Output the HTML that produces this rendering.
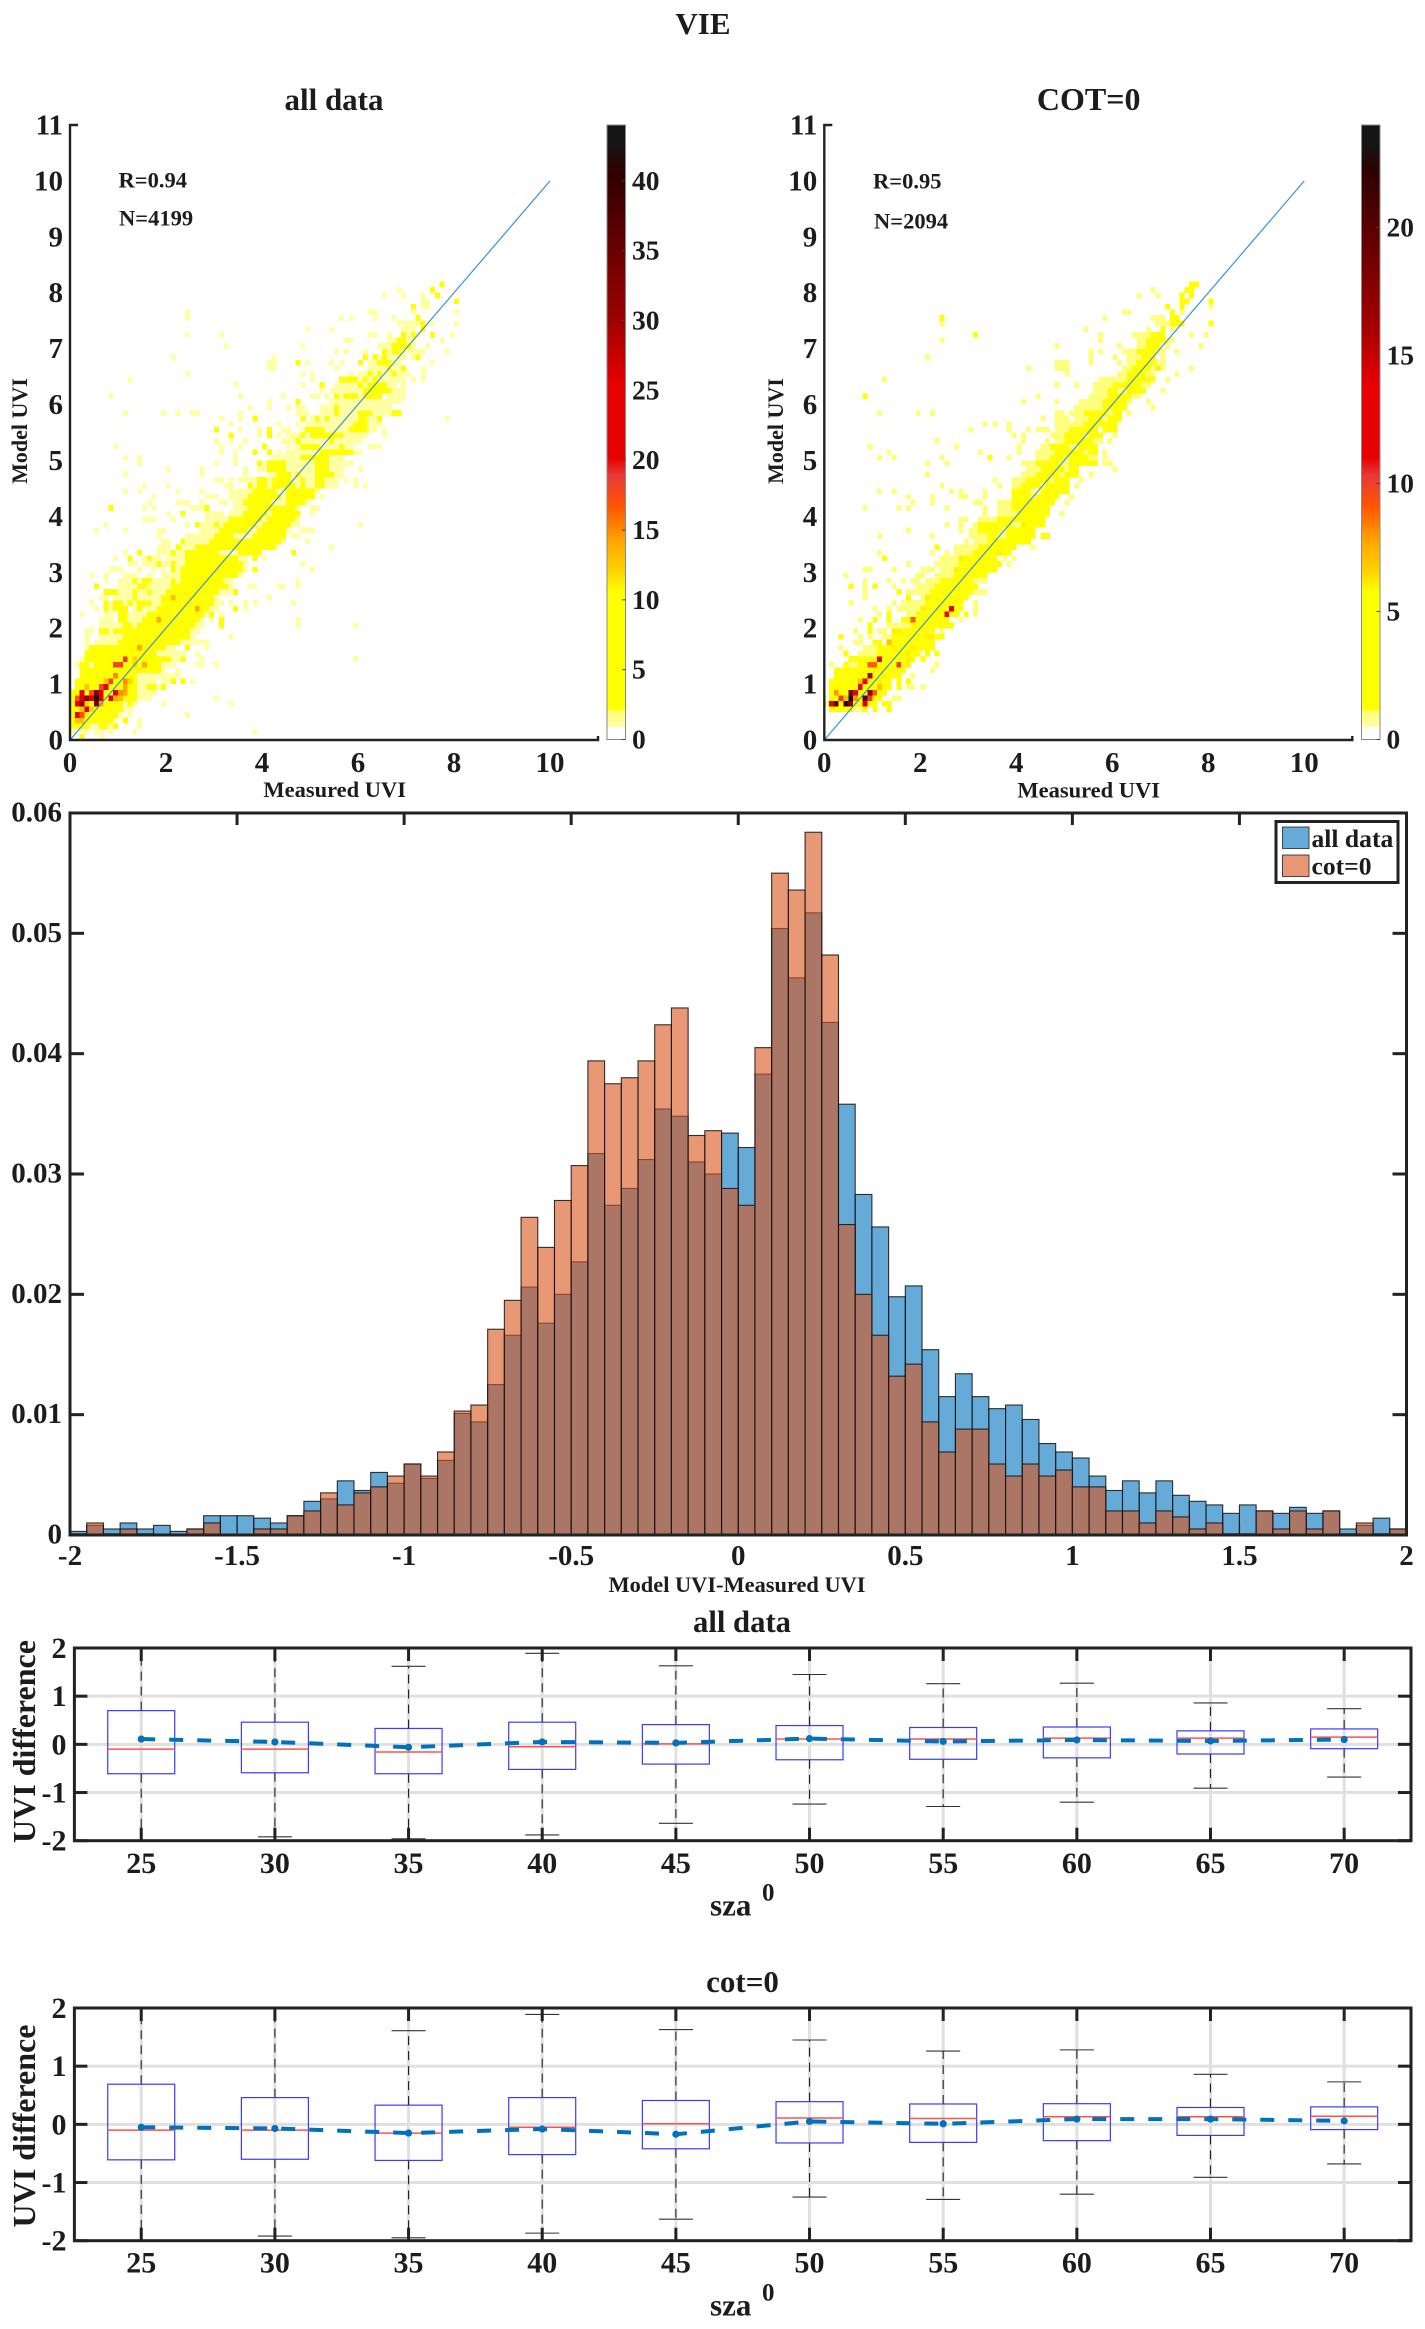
<!DOCTYPE html>
<html lang="en">
<head>
<meta charset="utf-8">
<title>VIE</title>
<style>
html,body{margin:0;padding:0;background:#fff;}
svg{display:block;}
text{font-family:"Liberation Serif",serif;font-weight:bold;fill:#1c1c1c;}
</style>
</head>
<body>
<svg id="fig" xmlns="http://www.w3.org/2000/svg" width="1425" height="2329" viewBox="0 0 1425 2329">
<rect x="0" y="0" width="1425" height="2329" fill="#fff"/>
<defs>
<clipPath id="clip-box-1"><rect x="74.4" y="1648" width="1336.6" height="192.7"/></clipPath>
<clipPath id="clip-box-2"><rect x="74.4" y="2008" width="1336.6" height="232.7"/></clipPath>
</defs>
<text x="703" y="34" text-anchor="middle" font-size="31">VIE</text>

<g id="scatter-all"></g>
<g id="scatter-cot"></g>
<text x="334" y="110" text-anchor="middle" font-size="31">all data</text>
<text x="1088.7" y="110" text-anchor="middle" font-size="32">COT=0</text>
<text x="118.5" y="187.7" font-size="22.5">R=0.94</text>
<text x="119" y="225.7" font-size="22.5">N=4199</text>
<text x="873" y="188.5" font-size="22.5">R=0.95</text>
<text x="874" y="228.7" font-size="22.5">N=2094</text>
<text x="334.7" y="797" text-anchor="middle" font-size="22.5">Measured UVI</text>
<text x="1088.7" y="797.5" text-anchor="middle" font-size="22.5">Measured UVI</text>
<text transform="translate(27 431) rotate(-90)" text-anchor="middle" font-size="22">Model UVI</text>
<text transform="translate(783 431) rotate(-90)" text-anchor="middle" font-size="22">Model UVI</text>

<g id="hist"></g>
<text x="737" y="1592" text-anchor="middle" font-size="22.4">Model UVI-Measured UVI</text>
<g>
<rect x="1276" y="821.5" width="122" height="61" fill="#fff" stroke="#222" stroke-width="3"/>
<rect x="1282.5" y="827" width="26.5" height="21.5" fill="#0072bd" fill-opacity="0.6" stroke="#222" stroke-width="0.8"/>
<rect x="1282.5" y="855" width="26.5" height="21.5" fill="#d95319" fill-opacity="0.6" stroke="#222" stroke-width="0.8"/>
<text x="1311.5" y="847" font-size="25.6">all data</text>
<text x="1311.5" y="874.5" font-size="25.6">cot=0</text>
</g>

<g id="box-all"></g>
<g id="box-cot"></g>
<text x="742" y="1632" text-anchor="middle" font-size="30.7">all data</text>
<text x="742.5" y="1992" text-anchor="middle" font-size="31">cot=0</text>
<text transform="translate(35 1741.5) rotate(-90)" text-anchor="middle" font-size="32">UVI difference</text>
<text transform="translate(35 2126) rotate(-90)" text-anchor="middle" font-size="32">UVI difference</text>
<text x="710" y="1915.7" font-size="31">sza</text>
<text x="762" y="1900.7" font-size="25">0</text>
<text x="710" y="2315.7" font-size="31">sza</text>
<text x="762" y="2300.7" font-size="25">0</text>
</svg>

<script>
// ---------- scatter density data: one string per 0.1-wide Model UVI bin, tokens "xbin" or "a-b" with optional ":count" (default count 1)
const scatterAllRows = [
"2:5 6",
"0 2-3 5-6 8 13 38",
"0-3:5 4-5 6-7:5 8 9:5 14",
"0:5 1-2:13 3-8:5 9 11:5 14",
"0:5 1:22 2:17 3-9:5 10 12 24",
"0-1:5 2:13 3:22 4:12 5-10:5 11-12",
"0:5 1:22 2:32 3:12 4:5 5:33 6:14 7-10:5 11 12:5 13 19 33",
"0:5 1:17 2:24 3:33 4:22 5:44 6:22 7:5 8:24 9:14 10:13 11-13:5 14-16 30",
"0-1:5 2:24 3:5 4:17 5:32 6:24 7-8:5 9:24 10:15 11:14 12-13:5 14-16 17",
"1-2:5 3:13 4-5:5 6:18 7:21 8-10:5 11:14 12-13:5 14-15 16-17:5 18 19:5",
"1-6:5 7:13 8:18 9-10:5 11:15 12:12 13:5 14-17 19-20 21:5 23:5 25",
"2-8:5 9:15 10-13:5 14 15-18 19-22",
"2-8:5 9-13:5 14:11 15-18:5 19 22",
"1 2-3:5 4 5-8:5 9-10:18 11-12:5 13:12 14:5 15:14 16-18:5 19 20-21 26-27 30",
"2 3-10:5 11:19 12:5 13:12 14-19:5 20:5 21-22 23:5 27 59",
"3-17:5 18 19 20-23 26",
"3 4-13:5 14:14 15-19:5 20-21 24:5 28",
"3 5-9 10-22:5 23 24-25 26-27 28",
"3 6-9 10 11-24:5 25 33",
"3-4 6-7:5 8 9-12:5 13-24:5 25-26",
"6-8 9 10 11-12:5 13 14-25:5 26-27 31:5 47 59",
"6 7 8 10-11:5 12-14 15-17:5 18:14 19-26:5 27 29 31:5 47",
"2 7 8 10-11:5 12-14 15 16-27:5 28 29:5 31",
"5 7:5 8 9-11:5 13 14:5 15-17 18-25:5 26:14 27-28:5 29 30 34:5 36",
"4 7:5 8 9-10:5 11 12:5 13 14-16:5 17-18 19-29:5 30 31 33 36 38 46",
"6-7 9 10-12 13:5 14 15-16 17-18 19-20:5 21:13 22-29:5 30 41",
"7-9:5 10-12 13:5 14 15 16:5 17-19 20-30:5 31-33 34:5",
"5:5 10-13 14-15:5 16-17 18-20 21-32:5 33 37-38 43-44 47",
"7 10-12 13:5 14 15-16:5 17 18-20 21:5 22 23-31:5 32-33 47",
"4 7 11-13 16 19-21 22 23-34:5 35",
"8-10 14 17 19 21:5 22 23-35:5 36 38:5 50",
"12-13 15-17 18:5 19-20 21:5 22-23 24-35:5 36 48",
"9 12:5 15 16:5 17-18 20-23 24-34:5 35 36 38:5 40",
"11 14:5 18-20 21:5 22-23 24-30:5 31-34 35-36:5 37-39:5 46:5",
"18-20 22:5 23-25 26-35:5 36-42:5 54",
"19-20 23:5 24-25 26-28 29-37:5 38-43:5 44 49",
"18 24-25 26-28 29 30-33:5 34-37 38-44:5 46-47",
"5 11 18-19 27-28 29-30 31-36:5 37-38 39-44:5 45 48-50",
"7 24 26:5 27-29 30:5 31 32-38:5 39 40-45:5 46-47 60",
"15-17 21 28-31 32 33-39:5 40 41-46:5 47",
"20 23:5 28-31 33-35 36-40:5 41 42-47:5 50",
"8:5 15 17 25-27 28:5 34 35-36 37-41:5 42-46:5 47 50-51",
"16 22-24 27 31-32 34-35 36-41:5 42-44 45-48:5 49",
"17 28-30 33 34-35 36 37-43:5 44 45-50:5 52",
"11 14 22 27 33-34 35-37 38-42:5 43-44 45-50:5 51",
"15 20 32-33 37:5 38 39-40:5 41 42-46:5 47 48:5 49-50 51-52:5 53 54-55 59 61",
"30-31 33 35-38 39-40:5 41 42-45:5 46-47 48:5 49-50 51-52:5 53-54 55 57 59",
"11 27 36 41-42 43-45:5 46 47:5 48-50 51-53:5 54:5 55-56",
"20 27 36 39-40 41-44:5 45-47 48 49-50 51-53:5 54-56 60",
"14 30 34 39:5 40 41-44:5 45 46-50 51-53:5 54 55 56-58",
"11 14 34 42 43-44 45 46-47 48-52:5 53:5 54-56",
"31 34 38:5 41:5 43 45 46 47-51 52-54:5 55-58:5 59-60",
"9 31 35 40:5 45 47 48-50:5 51:5 52-53 54-55 56:5 57-58 62-64",
"30 33 36 44-46 47:5 48-52 53 54:5 55 56-58 59-60",
"33:5 39 41:5 43 45-46 47 48:5 49 50-52:5 53-56:5 57-60 61 65",
"30:5 35 39 41:5 44-45 48 49-52:5 53-56 57 58-61:5 62-63 65",
"33 43 47 49-52 53-55 56-58 59-61:5 62-64",
"31 35 38:5 48:5 50 51:5 52 53:5 54 55-58 59 60-61:5 62-63 64:5 78",
"11 19 22 25-26 35 47-49 52-54 55:5 56 57 58-59 60-62:5 63-66 67-68:5",
"37 41 45 47-48 52-53 54 55:5 56 57-60 61 62-65 66",
"41 47:5 54-56 57-59 60 61-64 65-67 68",
"8 35 44 50-51 53 55:5 56 57-59:5 60 61-64:5 66-69",
"52 54 55-60 61-64:5 65-66:5 67-69",
"34 48 52:5 55-59 60:5 61 62-65:5 66-67 69",
"12 50 56-59:5 60 61:5 62 63:5 64-68 69 71 73",
"24 48 50 58 60-61 62:5 63 64:5 65-66 67:5 68-69 70 73",
"41-42 55 62-65 66:5 67-68 69:5 73",
"41-42 47:5 49 54 56 60:5 62-63 64-66:5 67 68 75",
"21 42 61:5 63:5 64 65:5 66-68 69 71 72:5",
"55 57 61 65:5 66 67:5 68:5 69-71 72-73 78",
"32 48 64-65 66 67-70:5 71 74",
"57-58 66 67 68-69:5 70 71 77",
"24 31 62-63 66 69:5 70 71:5 72 75:5 79",
"49 54 69-71 73:5",
"68-72 73:5 75 80",
"24 56 58 63 67 72:5",
"24 62-63 71 80",
"71:5 73-74",
"73-74 80:5",
"65 69 73 76:5",
"68 75:5",
"77:5"
];
const scatterCotRows = [
"","","","","",
"1-5:5 6-7 8:5 10:5 13:5",
"0 1:12 2:20 3:5 4:22 5:17 6-7:5 8:14 9-10:5 12-13:5",
"1-2:5 3:10 4:7 5:24 6:8 7:5 8:20 9:10 10-11:5 14-15",
"1:5 2:8 3-4:5 5:18 6:11 7-8:5 9:17 10:9 11-12:5",
"1-6:5 7:11 8-10:5 11:7 12-13:5 15:5 17-18 20",
"1-7:5 7:7 8:11 9-10:5 11:6 12-13:5 15:5 17:5",
"2-8:5 9:16 10-11:5 12:6 13-15:5 18",
"2-9:5 10-11:6 12-16:5 22",
"1 4:5 5-6 7-8:5 9-10:9 11-14:5 15:10 16:5 17:6 23",
"5-10:5 11:11 12-16:5 17:6 18:5 20:5",
"4:5 7-10 11-16:5 17:6 18-19:5 21:5 23:5",
"3 8-10 11-13:5 14:6 15-17:5 18:6 19-22:5",
"6-7 10-11:5 13:7 14-22:5",
"3:5 7 9 12-13 14-20:5 21-22:6 23-24:5",
"6 9:5 11-12 14:6 15:6 16-22:5 24",
"9:5 13 14-17 18-26:5",
"7 10:5 13:5 16-17:5 18:9 19-25:5 28",
"11 13:5 17-18 19-24:5 25:11 26-27:5 29:5 31",
"10 13 15-16 17-19 20:6 21-25:5 26:13 27-28:5 31",
"5 14 16-18 19-20 21-28:5 31",
"8 17:5 20 21:6 22-29:5",
"8 15:5 17-19 20-21 22-30:5 31-33",
"5:5 8 10:5 14 19-20 21-22 23-31:5",
"8 13 16 18-19 21-23 24-30:5 31-33",
"4 19-20 23 24-26 27-33:5",
"8-9 14 20-22 24-26 27:6 28-35:5",
"17 23-24 25-27 28-36:5 38",
"12:5 24 25-27 28:6 29-35:5 37 39",
"11 22 25 27-30 31-35:5 36:6 37-38:5",
"23:5 27-28 29-31 32-39:5 43",
"29 31-33 34-42:5",
"11 22 30-33 34-35:5 36-37 38-43:5 45-46:5",
"17 28 30-31 32-36:5 37 38-43:5",
"25 28 31 32-38:5 39-40 41:6 42-45:5",
"28-29 32-35 36-45:5",
"33 36-39 40-46:5 49",
"8 15 17 25 33 36-38 39-46:5",
"18 22 31-32 36-38 39-47:5 50",
"17 22 28-29 33 39-42:5 43 44-48:5 51",
"11 14 26 28 33 39-42:5 43 45-50:5",
"24 36 39-40 41-44:5 45 46-50:5 52",
"35 39-41 42-46:5 47 48-50:5 53",
"21 41-43 44-48:5 49 50-52:5 55",
"42-44 45-49:5 50 51-52:5 60",
"21 25 41-43 44-48:5 49-50 51-56:5 58-59",
"11 14 24 34:5 38 44-46 47-49:5 50 51-54:5 55-56 58",
"13 32 40 44-47 48-53:5 54 55-56:5 58",
"9 27 40 45-46 47-50:5 51-52 53-56:5",
"23 41 46 48-49 50-55:5 56-57 59",
"39 41 47-49 50-53:5 54 55-57:5 60",
"30 38 42 44-46 48-50 51-56:5 58-60:5",
"33 35 38 48-52 53 54-55:5 56-60:5",
"45 48-50 52-54 55-57:5 58 59-61:5",
"11 19 22 48-49 51-53 54-58:5 59 60-61:5 63",
"52-54 55-57 58-62:5 68",
"41 48 53-56 57 58-62:5 63 67",
"8:5 44 55-58 59-63:5 64-65",
"56-58 59-60:5 61-62 63-66:5 70",
"48 52 56-59 60-65:5 66-67",
"12 57-61 62 63-68:5 71",
"50 61-62 63-66:5 67-68 73",
"42 48-50 62-63 64-67:5 68 69:6 70 76",
"48-50 55 61 63-64 65-68:5 69-70",
"21 55 60 63-65 66-68:5 70",
"55 57 62 63-64 65-68:5 69-70 73",
"48 61 65-66 67-69:5 71 78",
"24 57 65-66 67-70:5 71 72",
"31:5 57 64 65-67 68-70:5 76 79",
"54 67 70:5 72",
"24 69-71 72-74:5 80:5",
"24:5 58 68 69-70 72-73:5",
"62-63 72:5 74",
"71:5 74:5 80",
"74-75:5 80:5",
"65 69 74:5 76:5",
"68 75-76:5",
"76-77:5"
];
const scatterXTicks = [0, 2, 4, 6, 8, 10];
const scatterYTicks = [0, 1, 2, 3, 4, 5, 6, 7, 8, 9, 10, 11];
const colorbarTicksAll = [0, 5, 10, 15, 20, 25, 30, 35, 40];
const colorbarTicksCot = [0, 5, 10, 15, 20];
const colorbarMaxAll = 44;
const colorbarMaxCot = 24;
const colormapFractions = [0, 0.02, 0.021, 0.045, 0.05, 0.24, 0.27, 0.32, 0.38, 0.43, 0.46, 0.58, 0.68, 0.82, 0.92, 0.97, 1];
const colormapColors = ["#ffffff","#ffffff","#ffffa8","#ffff78","#ffff00","#ffff00","#ffd800","#ffa800","#ff5500","#e83838","#e60000","#e60000","#a00000","#600000","#300000","#151515","#151515"];

// ---------- histogram data (bins of 0.05 from -2 to 2)
const histEdgeStart = -2;
const histBinWidth = 0.05;
const histAll = [.0003,.0008,.0005,.001,.0005,.0008,.0003,.0005,.0016,.0016,.0016,.0014,.001,.0016,.0028,.003,.0045,.0037,.0052,.0043,.0059,.0047,.0062,.0101,.0094,.0125,.0166,.0206,.0176,.02,.0227,.0317,.0274,.0288,.0312,.0354,.0348,.031,.03,.0334,.0322,.0383,.0504,.0463,.0517,.0426,.0358,.0283,.0256,.0198,.0207,.0154,.0115,.0134,.0115,.0105,.0108,.0096,.0076,.0069,.0064,.0049,.0037,.0045,.0035,.0045,.0033,.0028,.0025,.0018,.0025,.002,.0018,.0023,.0018,.002,.0005,.0008,.0014,.0005];
const histCot = [.0001,.001,.0001,.0005,.0001,0,0,.0005,.001,0,0,.0005,.0005,.0016,.002,.0035,.0025,.0035,.004,.0049,.0059,.0049,.0069,.0103,.0108,.0171,.0195,.0264,.0239,.0278,.0307,.0394,.0375,.038,.0394,.0424,.0438,.0332,.0336,.0288,.0274,.0405,.055,.0536,.0584,.0482,.0258,.02,.0166,.0132,.0142,.0094,.0069,.0088,.0088,.0059,.0049,.0059,.0049,.0054,.004,.004,.002,.002,.001,.002,.0015,.0005,.001,.0001,.0001,.002,.0005,.002,.0005,.002,.0001,.001,.0001,.0005];
const histXTicks = [-2, -1.5, -1, -0.5, 0, 0.5, 1, 1.5, 2];
const histXLabels = ["-2", "-1.5", "-1", "-0.5", "0", "0.5", "1", "1.5", "2"];
const histYTicks = [0, 0.01, 0.02, 0.03, 0.04, 0.05, 0.06];
const histYLabels = ["0", "0.01", "0.02", "0.03", "0.04", "0.05", "0.06"];

// ---------- box plot data
const szaCategories = [25, 30, 35, 40, 45, 50, 55, 60, 65, 70];
const boxYTicks = [-2, -1, 0, 1, 2];
const q3All = [.70, .46, .33, .46, .41, .39, .35, .36, .28, .32];
const q1All = [-.61, -.59, -.61, -.52, -.41, -.32, -.31, -.28, -.2, -.09];
const medianAll = [-.10, -.10, -.16, -.05, .01, .11, .11, .13, .13, .15];
const meanAll = [.11, .05, -.06, .05, .03, .12, .06, .09, .07, .10];
const whiskerHighAll = [2.5, 2.4, 1.62, 1.89, 1.63, 1.45, 1.26, 1.27, .86, .74];
const whiskerLowAll = [-2.5, -1.92, -1.96, -1.88, -1.64, -1.24, -1.29, -1.2, -.91, -.68];
const q3Cot = [.69, .46, .33, .46, .41, .39, .35, .355, .29, .30];
const q1Cot = [-.61, -.60, -.62, -.52, -.42, -.32, -.31, -.28, -.19, -.09];
const medianCot = [-.10, -.10, -.15, -.05, .01, .11, .10, .13, .13, .14];
const meanCot = [-.05, -.07, -.15, -.08, -.17, .05, .01, .09, .09, .06];
const whiskerHighCot = [2.5, 2.4, 1.61, 1.89, 1.63, 1.45, 1.26, 1.28, .86, .73];
const whiskerLowCot = [-2.5, -1.92, -1.95, -1.87, -1.63, -1.25, -1.29, -1.2, -.91, -.68];

// ---------- helpers
const SVGNS = "http://www.w3.org/2000/svg";
function mk(parent, tag, attrs, txt) {
  const n = document.createElementNS(SVGNS, tag);
  for (const k in attrs) n.setAttribute(k, attrs[k]);
  if (txt !== undefined) n.textContent = txt;
  parent.appendChild(n);
  return n;
}
function linear(d0, d1, r0, r1) {
  return function (v) { return r0 + (v - d0) * (r1 - r0) / (d1 - d0); };
}
function hexToRgb(h) {
  return [parseInt(h.substr(1, 2), 16), parseInt(h.substr(3, 2), 16), parseInt(h.substr(5, 2), 16)];
}
function colormap(f) {
  if (f >= 1) return colormapColors[colormapColors.length - 1];
  for (let i = 1; i < colormapFractions.length; i++) {
    if (f <= colormapFractions[i]) {
      const t = (f - colormapFractions[i - 1]) / (colormapFractions[i] - colormapFractions[i - 1]);
      const a = hexToRgb(colormapColors[i - 1]);
      const b = hexToRgb(colormapColors[i]);
      return "rgb(" + a.map(function (c, j) { return Math.round(c + (b[j] - c) * t); }).join(",") + ")";
    }
  }
  return "#fff";
}

// ---------- scatter
function drawScatter(gid, rows, cfg) {
  const g = document.getElementById(gid);
  const xs = linear(0, 11, cfg.left, cfg.left + 528);
  const ys = linear(0, 11, 740, 125);
  const cw = xs(0.1) - xs(0) + 0.15;
  const ch = ys(0) - ys(0.1) + 0.15;
  rows.forEach(function (row, r) {
    row.split(" ").filter(Boolean).forEach(function (tok) {
      const parts = tok.split(":");
      const count = parts.length > 1 ? +parts[1] : 1;
      const range = parts[0].split("-");
      const a = +range[0];
      const b = range.length > 1 ? +range[1] : a;
      for (let i = a; i <= b; i++) {
        const c = mk(g, "rect", { x: xs(i * 0.1), y: ys((r + 1) * 0.1), width: cw, height: ch, fill: colormap(count / cfg.max), "shape-rendering": "crispEdges" });
        
        
      }
    });
  });
  const diag = mk(g, "line", { x1: xs(0), y1: ys(0), x2: xs(10), y2: ys(10), stroke: "#3c93d0", "stroke-width": 1.2 });
  
  
  const yAxis = mk(g, "path", { d: "M" + (xs(0) + 8) + " " + ys(11) + "H" + xs(0) + "V" + ys(0) + "H" + xs(11) + "v-4", fill: "none", stroke: "#222", "stroke-width": 2.4 });
  
  
  scatterXTicks.forEach(function (v) {
    const t = mk(g, "text", { x: xs(v), y: 772, "text-anchor": "middle", "font-size": 29 }, String(v));
    
    
  });
  scatterYTicks.forEach(function (v) {
    const t = mk(g, "text", { x: cfg.left - 7, y: ys(v) + 9.5, "text-anchor": "end", "font-size": 29 }, String(v));
    
    
  });
  // colorbar
  const defs = mk(g, "defs", {});
  const grad = mk(defs, "linearGradient", { id: gid + "-grad", x1: 0, y1: 1, x2: 0, y2: 0 });
  colormapFractions.forEach(function (f, i) {
    mk(grad, "stop", { offset: f, "stop-color": colormapColors[i] });
  });
  const cs = linear(0, cfg.max, 739.5, 125);
  const bar = mk(g, "rect", { x: cfg.cbLeft, y: 125, width: 18.5, height: 614.5, fill: "url(#" + gid + "-grad)", stroke: "#8a8a8a", "stroke-width": 1 });
  
  
  cfg.cbTicks.forEach(function (v) {
    const m = mk(g, "line", { x1: cfg.cbLeft + 15, x2: cfg.cbLeft + 18.5, y1: cs(v), y2: cs(v), stroke: "#444", "stroke-width": 1 });
    
    
    const t = mk(g, "text", { x: cfg.cbLeft + 25, y: cs(v) + 9, "font-size": 27.5 }, String(v));
    
    
  });
}
drawScatter("scatter-all", scatterAllRows, { left: 70, max: colorbarMaxAll, cbLeft: 607, cbTicks: colorbarTicksAll });
drawScatter("scatter-cot", scatterCotRows, { left: 824.3, max: colorbarMaxCot, cbLeft: 1361.5, cbTicks: colorbarTicksCot });

// ---------- histogram
(function () {
  const g = document.getElementById("hist");
  const xs = linear(-2, 2, 70, 1406.5);
  const ys = linear(0, 0.06, 1535, 813);
  function bars(values, color, name) {
    values.forEach(function (v, i) {
      if (v <= 0) return;
      const x0 = histEdgeStart + i * histBinWidth;
      const b = mk(g, "rect", { x: xs(x0), y: ys(v), width: xs(x0 + histBinWidth) - xs(x0), height: ys(0) - ys(v), fill: color, "fill-opacity": 0.6, stroke: "#111", "stroke-width": 1.1, "stroke-opacity": 0.85 });
      
      
    });
  }
  bars(histAll, "#0072bd", "bar-all-data");
  bars(histCot, "#d95319", "bar-cot");
  const frame = mk(g, "rect", { x: 70, y: 813, width: 1336.5, height: 722, fill: "none", stroke: "#222", "stroke-width": 3 });
  
  
  histXTicks.forEach(function (v, i) {
    const up = mk(g, "line", { x1: xs(v), x2: xs(v), y1: 813, y2: 825, stroke: "#222", "stroke-width": 3 });
    
    
    const dn = mk(g, "line", { x1: xs(v), x2: xs(v), y1: 1535, y2: 1523, stroke: "#222", "stroke-width": 1.5, "stroke-opacity": 0.35 });
    
    
    const t = mk(g, "text", { x: xs(v), y: 1565, "text-anchor": "middle", "font-size": 29 }, histXLabels[i]);
    
    
  });
  histYTicks.forEach(function (v, i) {
    const l = mk(g, "line", { x1: 70, x2: 84, y1: ys(v), y2: ys(v), stroke: "#222", "stroke-width": 3 });
    
    
    const r = mk(g, "line", { x1: 1392.5, x2: 1406.5, y1: ys(v), y2: ys(v), stroke: "#222", "stroke-width": 3 });
    
    
    const t = mk(g, "text", { x: 62, y: ys(v) + 8.5, "text-anchor": "end", "font-size": 29 }, histYLabels[i]);
    
    
  });
})();

// ---------- box plots
function drawBox(gid, clip, top, bottom, labelY, q3, q1, med, mean, hi, lo) {
  const g = document.getElementById(gid);
  const xs = linear(22.5, 72.5, 74.4, 1411);
  const ys = linear(-2, 2, bottom, top);
  boxYTicks.forEach(function (v) {
    if (Math.abs(v) === 2) return;
    const gl = mk(g, "line", { x1: 74.4, x2: 1411, y1: ys(v), y2: ys(v), stroke: "#e0e0e0", "stroke-width": 3 });
    
    
  });
  szaCategories.forEach(function (s) {
    const gl = mk(g, "line", { x1: xs(s), x2: xs(s), y1: top, y2: bottom, stroke: "#e0e0e0", "stroke-width": 3 });
    
    
  });
  const clipped = mk(g, "g", { "clip-path": "url(#" + clip + ")" });
  
  
  szaCategories.forEach(function (s, i) {
    const x = xs(s);
    const wu = mk(clipped, "line", { x1: x, x2: x, y1: ys(q3[i]), y2: ys(hi[i]), stroke: "#222", "stroke-width": 1.1, "stroke-dasharray": "9 6" });
    
    
    const wl = mk(clipped, "line", { x1: x, x2: x, y1: ys(q1[i]), y2: ys(lo[i]), stroke: "#222", "stroke-width": 1.1, "stroke-dasharray": "9 6" });
    
    
    const cu = mk(clipped, "line", { x1: x - 17, x2: x + 17, y1: ys(hi[i]), y2: ys(hi[i]), stroke: "#333", "stroke-width": 1.1 });
    
    
    const cl = mk(clipped, "line", { x1: x - 17, x2: x + 17, y1: ys(lo[i]), y2: ys(lo[i]), stroke: "#333", "stroke-width": 1.1 });
    
    
    const b = mk(clipped, "rect", { x: x - 33.5, y: ys(q3[i]), width: 67, height: ys(q1[i]) - ys(q3[i]), fill: "none", stroke: "#3a3aff", "stroke-width": 1.2 });
    
    
    const m = mk(clipped, "line", { x1: x - 33.5, x2: x + 33.5, y1: ys(med[i]), y2: ys(med[i]), stroke: "#ff5050", "stroke-width": 1.5 });
    
    
  });
  const pts = szaCategories.map(function (s, i) { return xs(s) + "," + ys(mean[i]); }).join(" ");
  const ml = mk(g, "polyline", { points: pts, fill: "none", stroke: "#0072bd", "stroke-width": 4, "stroke-dasharray": "14 14" });
  
  
  szaCategories.forEach(function (s, i) {
    const d = mk(g, "circle", { cx: xs(s), cy: ys(mean[i]), r: 3.6, fill: "#0072bd" });
    
    
  });
  const frame = mk(g, "rect", { x: 74.4, y: top, width: 1336.6, height: bottom - top, fill: "none", stroke: "#222", "stroke-width": 3 });
  
  
  szaCategories.forEach(function (s) {
    const up = mk(g, "line", { x1: xs(s), x2: xs(s), y1: top, y2: top + 13, stroke: "#222", "stroke-width": 3 });
    
    
    const dn = mk(g, "line", { x1: xs(s), x2: xs(s), y1: bottom, y2: bottom - 13, stroke: "#222", "stroke-width": 3 });
    
    
    const t = mk(g, "text", { x: xs(s), y: labelY, "text-anchor": "middle", "font-size": 30 }, String(s));
    
    
  });
  boxYTicks.forEach(function (v) {
    const l = mk(g, "line", { x1: 74.4, x2: 87.4, y1: ys(v), y2: ys(v), stroke: "#222", "stroke-width": 3 });
    
    
    const r = mk(g, "line", { x1: 1398, x2: 1411, y1: ys(v), y2: ys(v), stroke: "#222", "stroke-width": 3 });
    
    
    const t = mk(g, "text", { x: 66.5, y: ys(v) + 10, "text-anchor": "end", "font-size": 30 }, String(v));
    
    
  });
}
drawBox("box-all", "clip-box-1", 1648, 1840.7, 1873, q3All, q1All, medianAll, meanAll, whiskerHighAll, whiskerLowAll);
drawBox("box-cot", "clip-box-2", 2008, 2240.7, 2272.6, q3Cot, q1Cot, medianCot, meanCot, whiskerHighCot, whiskerLowCot);
</script>
</body>
</html>
